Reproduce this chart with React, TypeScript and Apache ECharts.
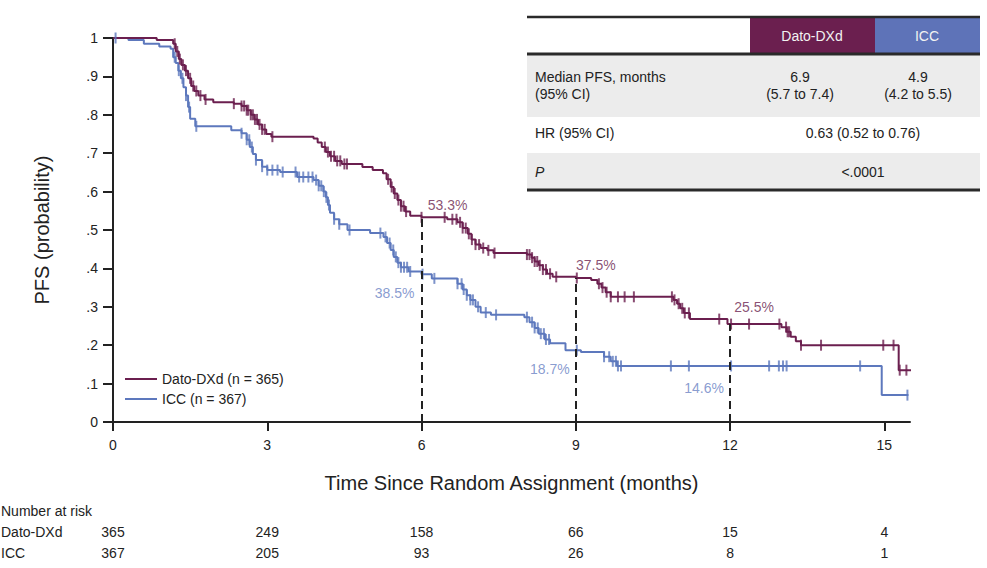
import React, { useEffect, useRef } from 'react';
import * as echarts from 'echarts';

// ---------- DATA ----------
const seriesNames = ['Dato-DXd (n = 365)', 'ICC (n = 367)'];

// Kaplan-Meier steps: [time (months), survival after the drop]
const datoCurve: [number, number][] = [
  [0, 1], [0.85, 0.995], [1.17, 0.985], [1.22, 0.965], [1.28, 0.945], [1.33, 0.93], [1.4, 0.915],
  [1.46, 0.895], [1.52, 0.875], [1.58, 0.862], [1.66, 0.85], [1.78, 0.84], [1.95, 0.833],
  [2.35, 0.829], [2.5, 0.823], [2.6, 0.812], [2.68, 0.8], [2.75, 0.788], [2.82, 0.775],
  [2.9, 0.762], [2.98, 0.75], [3.08, 0.743], [3.9, 0.738], [3.98, 0.728], [4.06, 0.716],
  [4.14, 0.703], [4.22, 0.692], [4.32, 0.68], [4.45, 0.672], [4.85, 0.664], [5.05, 0.656],
  [5.25, 0.648], [5.32, 0.632], [5.4, 0.612], [5.46, 0.595], [5.53, 0.578], [5.6, 0.562],
  [5.68, 0.548], [5.78, 0.537], [6.0, 0.533], [6.5, 0.528], [6.7, 0.52], [6.8, 0.505],
  [6.9, 0.49], [6.97, 0.475], [7.05, 0.462], [7.15, 0.453], [7.28, 0.447], [7.4, 0.44],
  [8.05, 0.436], [8.14, 0.428], [8.2, 0.418], [8.28, 0.408], [8.36, 0.397], [8.44, 0.386],
  [8.55, 0.378], [9.0, 0.375], [9.3, 0.37], [9.42, 0.36], [9.5, 0.35], [9.58, 0.338],
  [9.68, 0.326], [10.9, 0.318], [10.97, 0.308], [11.03, 0.296], [11.1, 0.284], [11.22, 0.268],
  [11.95, 0.255], [13.0, 0.247], [13.1, 0.235], [13.18, 0.222], [13.28, 0.21], [13.38, 0.2],
  [15.28, 0.135], [15.53, 0.135],
];

const iccCurve: [number, number][] = [
  [0, 1], [0.3, 0.995], [0.6, 0.985], [0.9, 0.978], [1.12, 0.972], [1.17, 0.95], [1.22, 0.935],
  [1.27, 0.915], [1.32, 0.895], [1.37, 0.872], [1.42, 0.85], [1.46, 0.82], [1.5, 0.79],
  [1.6, 0.77], [2.3, 0.76], [2.5, 0.752], [2.6, 0.735], [2.66, 0.716], [2.72, 0.698],
  [2.78, 0.682], [2.9, 0.665], [3.0, 0.656], [3.25, 0.651], [3.58, 0.638], [3.9, 0.63],
  [4.0, 0.615], [4.09, 0.6], [4.14, 0.585], [4.18, 0.565], [4.22, 0.545], [4.3, 0.528],
  [4.4, 0.515], [4.56, 0.5], [5.0, 0.492], [5.26, 0.482], [5.33, 0.466], [5.4, 0.448],
  [5.46, 0.43], [5.53, 0.415], [5.6, 0.403], [5.75, 0.392], [6.0, 0.385], [6.2, 0.374],
  [6.7, 0.36], [6.8, 0.345], [6.88, 0.33], [6.95, 0.318], [7.05, 0.3], [7.15, 0.285],
  [7.35, 0.279], [8.0, 0.273], [8.1, 0.26], [8.2, 0.245], [8.28, 0.23], [8.4, 0.215],
  [8.5, 0.205], [8.8, 0.187], [9.1, 0.182], [9.55, 0.17], [9.68, 0.158], [9.8, 0.146],
  [14.95, 0.07], [15.47, 0.07],
];

// censoring times (months)
const datoCensor = [
  1.2, 1.25, 1.3, 1.36, 1.42, 1.5, 1.56, 1.62, 1.7, 1.8, 2.35, 2.5, 2.55, 2.6, 2.63, 2.68, 2.72,
  2.76, 2.8, 2.85, 2.9, 2.95, 3.1, 4.12, 4.18, 4.24, 4.3, 4.36, 4.42, 4.5, 4.55, 5.35, 5.42,
  5.48, 5.55, 5.6, 5.65, 5.7, 6.0, 6.45, 6.6, 6.68, 6.75, 6.8, 6.86, 6.92, 6.98, 7.05, 7.12,
  7.2, 7.3, 7.42, 8.05, 8.1, 8.15, 8.2, 8.25, 8.3, 8.36, 8.42, 8.5, 8.62, 9.02, 9.45, 9.52,
  9.6, 9.68, 9.82, 9.95, 10.13, 10.87, 10.92, 11.0, 11.07, 11.12, 11.2, 11.79, 12.02, 12.37,
  12.96, 13.09, 13.12, 13.15, 13.38, 13.77, 14.98, 15.18, 15.3, 15.43,
];
const iccCensor = [
  0.05, 1.2, 1.28, 1.35, 1.42, 1.48, 1.62, 2.5, 2.6, 2.65, 2.7, 2.78, 2.9, 3.0, 3.1, 3.2, 3.3,
  3.55, 3.62, 3.7, 3.8, 3.88, 3.95, 4.0, 4.05, 4.1, 4.15, 4.2, 4.3, 4.4, 4.6, 5.2, 5.3, 5.38,
  5.45, 5.5, 5.55, 5.6, 5.66, 5.72, 5.78, 6.02, 6.25, 6.7, 6.78, 6.82, 6.88, 6.95, 7.0, 7.1,
  7.25, 7.45, 8.05, 8.15, 8.2, 8.26, 8.32, 8.38, 8.42, 8.48, 9.02, 9.55, 9.65, 9.72, 9.78,
  9.82, 9.88, 10.85, 11.2, 12.02, 12.76, 12.95, 13.03, 13.1, 14.53, 15.45,
];

const landmarkTimes = [6, 9, 12];
const datoLandmark = [0.533, 0.375, 0.255];
const iccLandmark = [0.385, 0.187, 0.146];
const datoLandmarkLabels = ['53.3%', '37.5%', '25.5%'];
const iccLandmarkLabels = ['38.5%', '18.7%', '14.6%'];

const xTicks = [0, 3, 6, 9, 12, 15];
const yTickLabels = ['0', '.1', '.2', '.3', '.4', '.5', '.6', '.7', '.8', '.9', '1'];

const riskTimes = [0, 3, 6, 9, 12, 15];
const riskDato = [365, 249, 158, 66, 15, 4];
const riskIcc = [367, 205, 93, 26, 8, 1];
const riskRowLabels = ['Dato-DXd', 'ICC'];

const tableHeader = ['Dato-DXd', 'ICC'];
const medianLabel = ['Median PFS, months', '(95% CI)'];
const medianDato = ['6.9', '(5.7 to 7.4)'];
const medianIcc = ['4.9', '(4.2 to 5.5)'];
const hrLabel = 'HR (95% CI)';
const hrValue = '0.63 (0.52 to 0.76)';
const pLabel = 'P';
const pValue = '<.0001';

// ---------- STYLE ----------
const FONT = "'Liberation Sans', Arial, Helvetica, sans-serif";
const PURPLE = '#6b1f4f';
const BLUE = '#5d78bd';
const BLUE_TEXT = '#6a82c4';
const INK = '#222222';

function survAt(curve: [number, number][], t: number): number {
  let v = curve[0][1];
  for (const [ct, cv] of curve) {
    if (ct <= t) v = cv;
    else break;
  }
  return v;
}

function tableGraphics(): any[] {
  const L = 527, R = 980;
  const txt = (x: number, y: number, text: string, align: string, extra: any = {}) => ({
    type: 'text', x, y,
    style: { text, fill: INK, font: `14px ${FONT}`, textAlign: align, textVerticalAlign: 'middle', ...extra },
  });
  return [
    { type: 'rect', shape: { x: L, y: 55, width: R - L, height: 62 }, style: { fill: '#ececec' } },
    { type: 'rect', shape: { x: L, y: 153, width: R - L, height: 36 }, style: { fill: '#ececec' } },
    { type: 'rect', shape: { x: 750, y: 17, width: 125, height: 36 }, style: { fill: PURPLE } },
    { type: 'rect', shape: { x: 875, y: 17, width: R - 875, height: 36 }, style: { fill: '#5e73b8' } },
    { type: 'line', shape: { x1: L, y1: 17, x2: R, y2: 17 }, style: { stroke: '#2a2a2a', lineWidth: 2.5 } },
    { type: 'line', shape: { x1: L, y1: 54, x2: R, y2: 54 }, style: { stroke: '#2a2a2a', lineWidth: 3 } },
    { type: 'line', shape: { x1: L, y1: 190, x2: R, y2: 190 }, style: { stroke: '#2a2a2a', lineWidth: 3 } },
    txt(812, 36, tableHeader[0], 'center', { fill: '#f2f2f2' }),
    txt(927, 36, tableHeader[1], 'center', { fill: '#f2f2f2' }),
    txt(535, 77, medianLabel[0], 'left'),
    txt(535, 94, medianLabel[1], 'left'),
    txt(800, 77, medianDato[0], 'center'),
    txt(800, 94, medianDato[1], 'center'),
    txt(918, 77, medianIcc[0], 'center'),
    txt(918, 94, medianIcc[1], 'center'),
    txt(535, 133, hrLabel, 'left'),
    txt(863, 133, hrValue, 'center'),
    txt(535, 172, pLabel, 'left', { font: `italic 14px ${FONT}` }),
    txt(863, 172, pValue, 'center'),
  ];
}

function riskGraphics(chart: echarts.ECharts): any[] {
  const out: any[] = [];
  const t = (x: number, y: number, text: string, align: string) => ({
    type: 'text', x, y,
    style: { text, fill: INK, font: `14px ${FONT}`, textAlign: align, textVerticalAlign: 'middle' },
  });
  out.push(t(1, 511, 'Number at risk', 'left'));
  out.push(t(1, 532, riskRowLabels[0], 'left'));
  out.push(t(1, 553, riskRowLabels[1], 'left'));
  riskTimes.forEach((time, i) => {
    const px = chart.convertToPixel({ xAxisIndex: 0 }, time) as number;
    out.push(t(px, 532, String(riskDato[i]), 'center'));
    out.push(t(px, 553, String(riskIcc[i]), 'center'));
  });
  return out;
}

function buildOption(): any {
  const labelItem = (t: number, v: number, text: string, color: string, offset: number[]) => ({
    value: [t, v],
    label: { show: true, formatter: text, color, offset, position: 'inside', fontSize: 14, fontFamily: FONT },
  });
  const datoOffsets = [[26, -12], [20, -13], [24, -17]];
  const iccOffsets = [[-27, 19], [-26, 19], [-26, 22]];
  return {
    animation: false,
    backgroundColor: '#ffffff',
    textStyle: { fontFamily: FONT },
    grid: { left: 113, right: 77, top: 38, bottom: 146 },
    legend: {
      data: seriesNames,
      orient: 'vertical',
      left: 120,
      top: 367,
      icon: 'rect',
      itemWidth: 32,
      itemHeight: 2,
      itemGap: 6,
      textStyle: { fontSize: 14, color: INK, fontFamily: FONT },
    },
    xAxis: {
      type: 'value',
      min: 0,
      max: 15.5,
      name: 'Time Since Random Assignment (months)',
      nameLocation: 'middle',
      nameGap: 51,
      nameTextStyle: { fontSize: 20, color: INK, fontFamily: FONT },
      axisLine: { show: true, lineStyle: { color: INK, width: 2 } },
      axisTick: { show: true, length: 9, lineStyle: { color: INK, width: 2 }, customValues: xTicks },
      axisLabel: { customValues: xTicks, fontSize: 14, color: INK, margin: 16, fontFamily: FONT },
      splitLine: { show: false },
    },
    yAxis: {
      type: 'value',
      min: 0,
      max: 1,
      interval: 0.1,
      name: 'PFS (probability)',
      nameLocation: 'middle',
      nameGap: 61,
      nameTextStyle: { fontSize: 20, color: INK, fontFamily: FONT },
      axisLine: { show: true, lineStyle: { color: INK, width: 2 } },
      axisTick: { show: true, length: 10, lineStyle: { color: INK, width: 2 } },
      axisLabel: {
        fontSize: 14, color: INK, margin: 15, fontFamily: FONT,
        formatter: (v: number) => yTickLabels[Math.round(v * 10)] ?? '',
      },
      splitLine: { show: false },
    },
    series: [
      {
        name: seriesNames[0],
        type: 'line',
        step: 'end',
        symbol: 'none',
        data: datoCurve,
        lineStyle: { color: PURPLE, width: 2 },
        itemStyle: { color: PURPLE },
        z: 3,
        markLine: {
          silent: true,
          symbol: ['none', 'none'],
          label: { show: false },
          lineStyle: { color: INK, width: 2, type: [8, 5] },
          data: landmarkTimes.map((t, i) => [{ coord: [t, 0] }, { coord: [t, datoLandmark[i]] }]),
        },
      },
      {
        name: seriesNames[1],
        type: 'line',
        step: 'end',
        symbol: 'none',
        data: iccCurve,
        lineStyle: { color: BLUE, width: 2 },
        itemStyle: { color: BLUE },
        z: 2,
      },
      {
        name: 'Dato-DXd censored',
        type: 'scatter',
        symbol: 'rect',
        symbolSize: [2, 11],
        itemStyle: { color: PURPLE },
        data: datoCensor.map((t) => [t, survAt(datoCurve, t)]),
        z: 4,
        silent: true,
      },
      {
        name: 'ICC censored',
        type: 'scatter',
        symbol: 'rect',
        symbolSize: [2, 11],
        itemStyle: { color: BLUE },
        data: iccCensor.map((t) => [t, survAt(iccCurve, t)]),
        z: 3,
        silent: true,
      },
      {
        name: 'landmark labels',
        type: 'scatter',
        symbolSize: 0,
        silent: true,
        data: [
          ...landmarkTimes.map((t, i) => labelItem(t, datoLandmark[i], datoLandmarkLabels[i], PURPLE, datoOffsets[i])),
          ...landmarkTimes.map((t, i) => labelItem(t, iccLandmark[i], iccLandmarkLabels[i], BLUE_TEXT, iccOffsets[i])),
        ],
        z: 5,
      },
    ],
  };
}

export default function App() {
  const ref = useRef<HTMLDivElement>(null);
  useEffect(() => {
    document.body.style.margin = '0';
    const chart = echarts.init(ref.current!, null, { renderer: 'svg' });
    chart.setOption(buildOption());
    chart.setOption({ graphic: [...tableGraphics(), ...riskGraphics(chart)] });
    return () => chart.dispose();
  }, []);
  return <div ref={ref} style={{ width: 987, height: 568 }} />;
}
